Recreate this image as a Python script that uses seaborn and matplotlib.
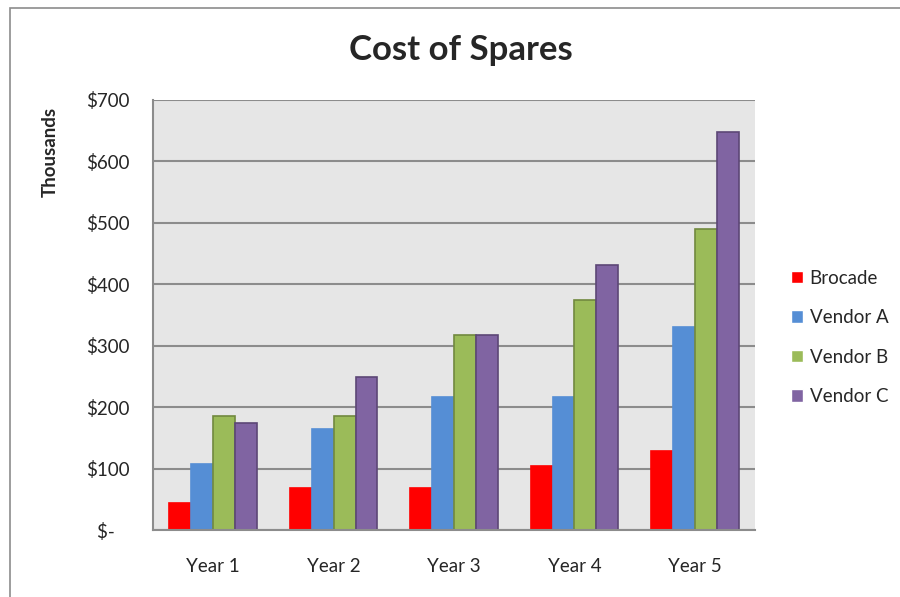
import pandas as pd
import matplotlib
matplotlib.use('Agg')
import matplotlib.pyplot as plt
import seaborn as sns
from matplotlib.patches import Rectangle

# data (thousands of dollars)
years = ['Year 1', 'Year 2', 'Year 3', 'Year 4', 'Year 5']
brocade = [44, 68, 68, 104, 128]
vendor_a = [108, 165, 216, 216, 330]
vendor_b = [186, 186, 318, 375, 490]
vendor_c = [175, 250, 318, 432, 648]
series = ['Brocade', 'Vendor A', 'Vendor B', 'Vendor C']
colors = ['#FF0000', '#558ED5', '#9BBB59', '#8064A2']
edges = ['#FF0000', '#558ED5', '#71893F', '#5C4776']
ytick_vals = [0, 100, 200, 300, 400, 500, 600, 700]
ytick_labels = ['$-   ', '$100', '$200', '$300', '$400', '$500', '$600', '$700']

df = pd.DataFrame({'Year': years * 4,
                   'Vendor': [s for s in series for _ in years],
                   'Cost': brocade + vendor_a + vendor_b + vendor_c})

sns.set_style('white')
plt.rcParams['font.family'] = ['Lato', 'DejaVu Sans']

fig = plt.figure(figsize=(9, 5.97), dpi=100)
ax = fig.add_axes([0.17, 0.112, 0.669, 0.7205])

sns.barplot(df, x='Year', y='Cost', hue='Vendor', hue_order=series,
            palette=colors, width=0.727, saturation=1, ax=ax, legend=True)

for cont, ec in zip(ax.containers, edges):
    for p in cont:
        p.set_edgecolor(ec)
        p.set_linewidth(1.2)

ax.set_facecolor('#E6E6E6')
ax.set_ylim(0, 700)
ax.set_xlim(-0.5, 4.5)
ax.set_yticks(ytick_vals)
ax.set_yticklabels(ytick_labels)
ax.yaxis.grid(True, color='#8C8C8C', linewidth=1.5)
ax.set_axisbelow(True)
ax.set_xlabel('')
ax.set_ylabel('')
for s in ['top', 'right']:
    ax.spines[s].set_visible(False)
for s in ['left', 'bottom']:
    ax.spines[s].set_color('#8C8C8C')
    ax.spines[s].set_linewidth(1.5)
ax.tick_params(axis='y', length=4, color='#8C8C8C', pad=13, labelsize=13.5)
ax.tick_params(axis='x', length=0, pad=20, labelsize=13.5)

ax.legend(loc='center left', bbox_to_anchor=(0.86, 0.435), bbox_transform=fig.transFigure,
          frameon=False, fontsize=13.5, handlelength=0.65, handleheight=0.65,
          labelspacing=1.2, handletextpad=0.35)

fig.text(0.512, 0.916, 'Cost of Spares', ha='center', va='center',
         fontsize=25, fontweight='bold')
fig.text(0.056, 0.745, 'Thousands', ha='center', va='center', rotation=90,
         fontsize=13.5, fontweight='bold')

# chart outer border
fig.patches.append(Rectangle((0.011, -0.05), 1.2, 1.037, transform=fig.transFigure,
                             fill=False, edgecolor='#8C8C8C', linewidth=1.2))

fig.savefig('out.png', dpi=100)
